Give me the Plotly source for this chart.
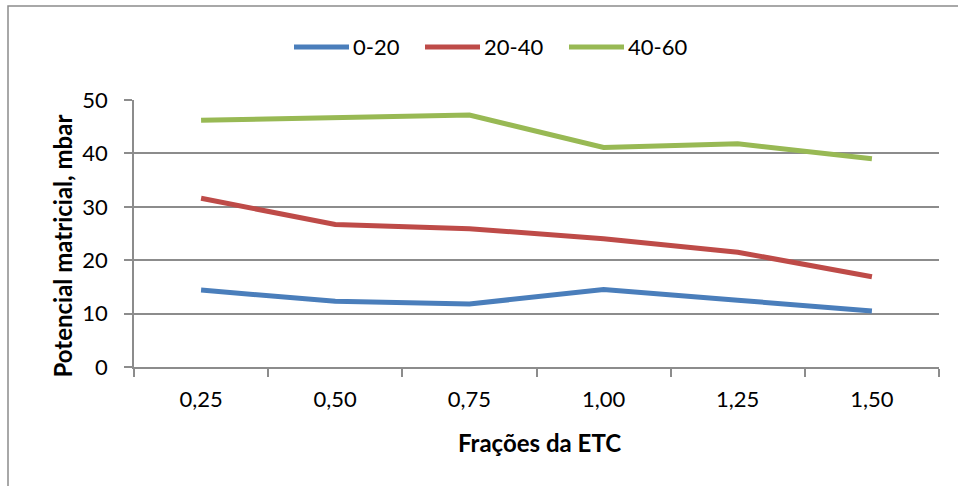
import plotly.graph_objects as go

# Frações da ETC (categories) and soil-depth series (mbar)
categorias = ["0,25", "0,50", "0,75", "1,00", "1,25", "1,50"]
serie_0_20 = [14.4, 12.3, 11.8, 14.5, 12.5, 10.5]
serie_20_40 = [31.6, 26.7, 25.9, 24.0, 21.5, 16.9]
serie_40_60 = [46.2, 46.8, 47.2, 41.1, 41.8, 39.0]
nomes = ["0-20", "20-40", "40-60"]
cores = ["#4A7EBB", "#BE4B48", "#98B954"]

W, H = 958, 486
ML, MR, MT, MB = 134, 19, 100, 119
PW, PH = W - ML - MR, H - MT - MB


def xp(px):
    return (px - ML) / PW


def yp(py):
    return (H - MB - py) / PH


FONT = "Lato"
GRID = "#8C8C8C"
TXT = 22
TITLE = 24

fig = go.Figure()
for nome, vals, cor in zip(nomes, [serie_0_20, serie_20_40, serie_40_60], cores):
    fig.add_trace(go.Scatter(
        x=categorias, y=vals, name=nome, mode="lines",
        line=dict(color=cor, width=5), showlegend=False,
    ))

# legend drawn as line swatches + labels
leg_y = yp(47)
swatch_x = [(294, 349), (425, 480), (569, 624)]
shapes = []
annotations = []
for (x0, x1), nome, cor in zip(swatch_x, nomes, cores):
    shapes.append(dict(type="line", xref="paper", yref="paper",
                       x0=xp(x0), x1=xp(x1), y0=leg_y, y1=leg_y,
                       line=dict(color=cor, width=5)))
    annotations.append(dict(xref="paper", yref="paper", x=xp(x1 + 2), y=leg_y,
                            text=nome, showarrow=False, xanchor="left", yanchor="middle",
                            font=dict(family=FONT, size=TXT, color="#000000")))

# chart-area border
shapes.append(dict(type="rect", xref="paper", yref="paper",
                   x0=xp(8), x1=xp(W + 10), y0=yp(H + 10), y1=yp(6),
                   line=dict(color="#8C8C8C", width=1.5), fillcolor="rgba(0,0,0,0)"))

# axis titles
annotations.append(dict(xref="paper", yref="paper", x=xp(62), y=yp(246.5),
                        text="<b>Potencial matricial, mbar</b>", textangle=-90,
                        showarrow=False, xanchor="center", yanchor="middle",
                        font=dict(family=FONT, size=TITLE, color="#000000")))
annotations.append(dict(xref="paper", yref="paper", x=xp(539.5), y=yp(442),
                        text="<b>Frações da ETC</b>",
                        showarrow=False, xanchor="center", yanchor="middle",
                        font=dict(family=FONT, size=TITLE, color="#000000")))

fig.update_layout(
    width=W, height=H,
    margin=dict(l=ML, r=MR, t=MT, b=MB),
    paper_bgcolor="white", plot_bgcolor="white",
    shapes=shapes, annotations=annotations,
    xaxis=dict(
        type="category", range=[-0.5, 5.5],
        showgrid=False, showline=True, linecolor=GRID, linewidth=1.5,
        ticks="outside", tickson="boundaries", ticklen=8, tickcolor=GRID, tickwidth=1.5,
        tickfont=dict(family=FONT, size=TXT, color="#000000"),
        ticklabelstandoff=12, zeroline=False,
    ),
    yaxis=dict(
        range=[0, 50], tickvals=[0, 10, 20, 30, 40, 50],
        showgrid=True, gridcolor=GRID, gridwidth=1.5,
        showline=True, linecolor=GRID, linewidth=1.5,
        ticks="outside", ticklen=8, tickcolor=GRID, tickwidth=1.5,
        tickfont=dict(family=FONT, size=TXT, color="#000000"),
        ticklabelstandoff=12, zeroline=False,
    ),
)

fig.write_html("out.html")
